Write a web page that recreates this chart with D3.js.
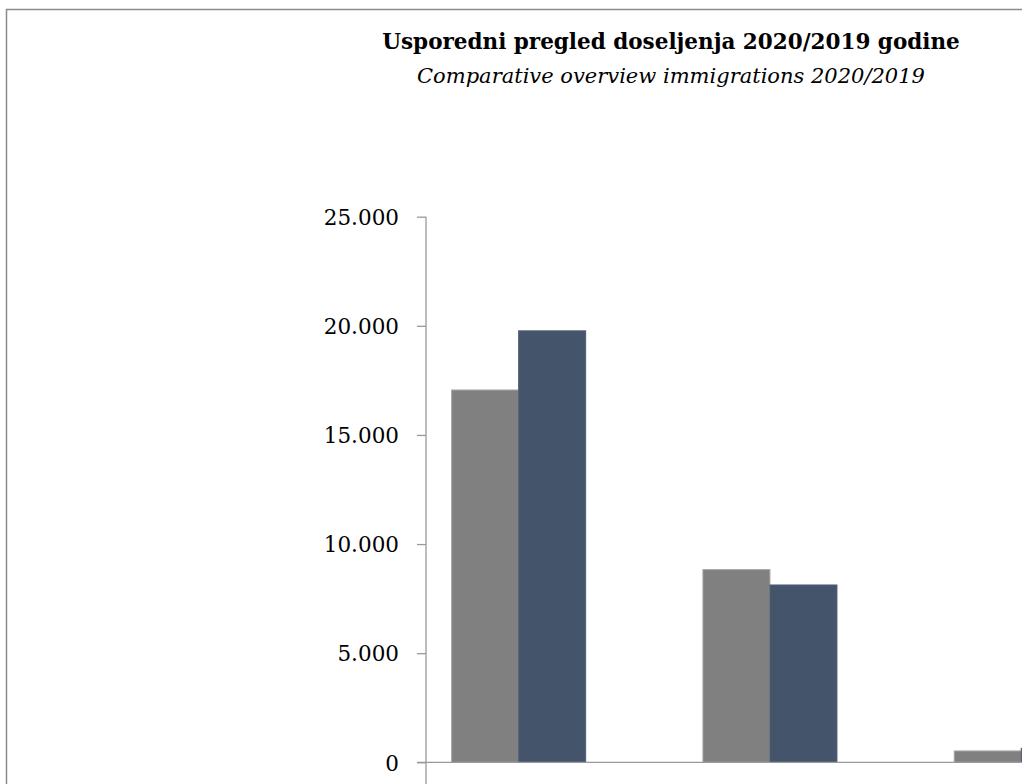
<!DOCTYPE html>
<html>
<head>
<meta charset="utf-8">
<script src="https://cdn.jsdelivr.net/npm/d3@7"></script>
<style>
  html, body { margin: 0; padding: 0; background: #fff; overflow: hidden; }
  svg { display: block; }
</style>
</head>
<body>
<div id="graph"></div>
<script>
var categories = ['A', 'B', 'C']
var seriesNames = ['2020', '2019', 'other']
var values2020 = [17060, 8830, 520]
var values2019 = [19770, 8125, 640]
var valuesOther = [0, 0, 0]
var yTicks = [0, 5000, 10000, 15000, 20000, 25000]

var title = 'Usporedni pregled doseljenja 2020/2019 godine'
var subtitle = 'Comparative overview immigrations 2020/2019'

var colors = ['#808080', '#44546a', '#a5a5a5']
var strokes = ['#a6a6a6', '#4f5f74', '#bbb']

var width = 1022, height = 784

var svg = d3.select('#graph').append('svg')
  .attr('width', width)
  .attr('height', height)

// outer chart frame (continues past the crop)
svg.append('rect')
  .attr('x', 6.5).attr('y', 9.5)
  .attr('width', 1200).attr('height', 900)
  .attr('fill', 'none')
  .attr('stroke', '#8a8a8a')
  .attr('stroke-width', 1.5)

var plot = {left: 426, top: 216.7, bottom: 762.3}
var step = 251.3

var x = d3.scaleBand()
  .domain(categories)
  .range([plot.left, plot.left + step*categories.length])
  .paddingInner(0.2)
  .paddingOuter(0.1)

var xs = d3.scaleBand()
  .domain(seriesNames)
  .range([0, x.bandwidth()])

var y = d3.scaleLinear()
  .domain([0, 25000])
  .range([plot.bottom, plot.top])

var rows = categories.map((c, i) => ({
  cat: c,
  vals: [values2020[i], values2019[i], valuesOther[i]]
}))

var groups = svg.selectAll('g.grp').data(rows).enter().append('g')
  .attr('class', 'grp')
  .attr('transform', d => `translate(${x(d.cat)},0)`)

groups.selectAll('rect').data(d => d.vals.map((v, j) => ({v, j})))
  .enter().append('rect')
  .filter(d => d.v > 0)
  .attr('x', d => xs(seriesNames[d.j]) + 0.5)
  .attr('width', xs.bandwidth())
  .attr('y', d => y(d.v))
  .attr('height', d => y(0) - y(d.v))
  .attr('fill', d => colors[d.j])
  .attr('stroke', d => strokes[d.j])
  .attr('stroke-width', 1)

// axes
var yAxis = svg.append('g')
  .attr('transform', `translate(${plot.left},0)`)
  .call(d3.axisLeft(y).tickValues(yTicks).tickSize(9).tickPadding(18)
    .tickFormat(d => d3.format(',')(d).replace(/,/g, '.')))

yAxis.select('.domain').remove()
yAxis.selectAll('line').attr('stroke', '#999').attr('stroke-width', 1.3)
yAxis.selectAll('text')
  .attr('font-family', 'DejaVu Serif')
  .attr('font-size', 21.5)
  .attr('fill', '#000')
  .attr('dy', '0.36em')

svg.append('line')
  .attr('x1', plot.left).attr('x2', plot.left)
  .attr('y1', plot.top).attr('y2', height + 5)
  .attr('stroke', '#999').attr('stroke-width', 1.3)

svg.append('line')
  .attr('x1', plot.left - 9).attr('x2', width + 5)
  .attr('y1', plot.bottom).attr('y2', plot.bottom)
  .attr('stroke', '#999').attr('stroke-width', 1.3)

// titles
svg.append('text')
  .attr('x', 671).attr('y', 49)
  .attr('text-anchor', 'middle')
  .attr('font-family', 'DejaVu Serif')
  .attr('font-weight', 'bold')
  .attr('font-size', 21.5)
  .attr('fill', '#000')
  .text(title)

svg.append('text')
  .attr('x', 671).attr('y', 83)
  .attr('text-anchor', 'middle')
  .attr('font-family', 'DejaVu Serif')
  .attr('font-style', 'italic')
  .attr('font-size', 21)
  .attr('fill', '#000')
  .text(subtitle)
</script>
</body>
</html>
